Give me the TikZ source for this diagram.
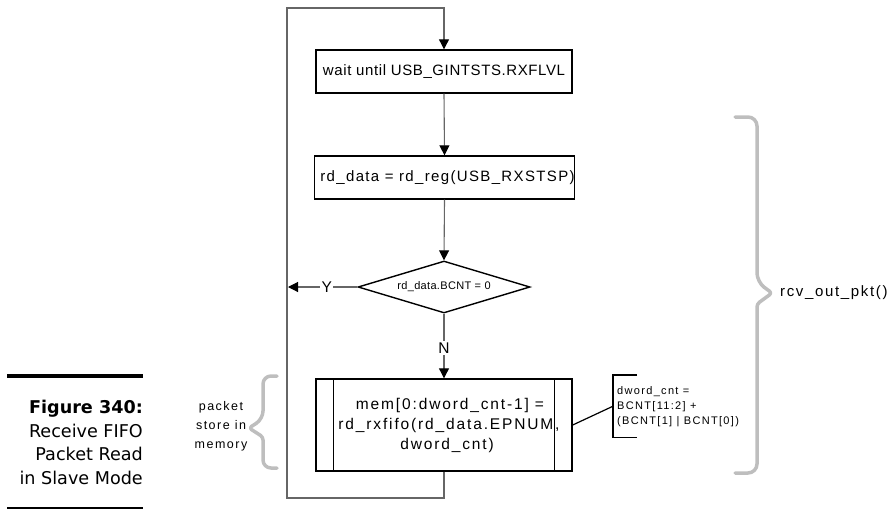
\documentclass[tikz,border=0pt]{standalone}
\usepackage{fontspec}
\setmainfont{Liberation Sans}
\newfontfamily\capfont{DejaVu Sans}
\usetikzlibrary{shapes.geometric,arrows.meta}
\definecolor{bracegray}{RGB}{190,190,190}
\begin{document}
\begin{tikzpicture}[x=1pt,y=-1pt,
  stepbox/.style={draw=black, line width=1.4pt, minimum width=256pt, minimum height=43pt, inner sep=0pt, align=center},
  conn/.style={draw=black!60, line width=1.1pt},
  arr/.style={conn, -{Triangle[width=10pt,length=10pt,fill=black,color=black]}},
  lbl/.style={fill=white, inner sep=1.5pt, font=\fontsize{15.5}{18}\selectfont},
  gbrace/.style={draw=bracegray, line width=3.5pt, line cap=round, line join=round},
  captext/.style={anchor=base east, inner sep=0pt, font=\capfont\fontsize{17.6}{20}\selectfont},
]
\useasboundingbox (0,0) rectangle (891,509);

% flow boxes
\node[stepbox, font=\fontsize{15}{18}\selectfont\addfontfeature{LetterSpace=4}] (b1) at (444,71.5) {wait until USB\_GINTSTS.RXFLVL};
\node[stepbox, font=\fontsize{15}{18}\selectfont\addfontfeature{LetterSpace=9}] (b2) at (444.5,177.5) {\hspace*{6pt}rd\_data = rd\_reg(USB\_RXSTSP)};
\node[diamond, draw=black, line width=1.4pt, minimum width=172pt, minimum height=52pt, shape aspect=3.3, inner sep=0pt,
      font=\fontsize{11}{13}\selectfont\addfontfeature{LetterSpace=3}] (d) at (444,287) {rd\_data.BCNT = 0};
\node[stepbox, minimum height=92pt, font=\fontsize{15.5}{20}\selectfont\addfontfeature{LetterSpace=12}] (bp) at (444,425)
  {\hspace*{12pt}mem[0:dword\_cnt-1] =\\\hspace*{10pt}rd\_rxfifo(rd\_data.EPNUM,\\\hspace*{6pt}dword\_cnt)};
\draw[line width=1.4pt] ([xshift=18pt]bp.north west) -- ([xshift=18pt]bp.south west);
\draw[line width=1.4pt] ([xshift=-18pt]bp.north east) -- ([xshift=-18pt]bp.south east);

% dword annotation
\node[anchor=north west, minimum height=62pt, inner xsep=4pt, inner ysep=0pt, align=left,
      font=\fontsize{11}{15}\selectfont\addfontfeature{LetterSpace=12}] (dw) at (613,375)
  {dword\_cnt =\\BCNT[11:2] +\\(BCNT[1] | BCNT[0])};
\draw[line width=1.4pt] ([xshift=24pt]dw.north west) -- (dw.north west) -- (dw.south west) -- ([xshift=24pt]dw.south west);
\draw[line width=1.2pt] (bp.east) -- (dw.west);

% connectors
\coordinate (tl) at (287,8);
\coordinate (bl) at (287,498);
\coordinate (ya) at (288,287);
\draw[arr] (b1.south) -- (b2.north);
\draw[arr] (b2.south) -- (d.north);
\draw[arr] (d.south) -- node[lbl, pos=0.53] {N} (bp.north);
\draw[arr] (d.west) -- node[lbl, pos=0.44] {Y} (ya);
\draw[arr] (bp.south) |- (bl) -- (tl) -| (b1.north);

% braces
\draw[gbrace, rounded corners=9pt] (735,117) -- (757,117) -- (757,282) [rounded corners=3pt] -- (772,293) -- (757,304) [rounded corners=9pt] -- (757,473) -- (735,473);
\node[anchor=west, inner sep=0pt, font=\fontsize{15}{18}\selectfont\addfontfeature{LetterSpace=11}] (rcv) at (780,293) {rcv\_out\_pkt()};
\draw[gbrace, rounded corners=8pt] (277,376) -- (263,376) -- (263,419) [rounded corners=3pt] -- (249,428) -- (263,437) [rounded corners=8pt] -- (263,468) -- (277,468);
\node[align=center, inner sep=0pt, font=\fontsize{12.5}{19}\selectfont\addfontfeature{LetterSpace=12}] (pk) at (221,426) {packet\\store in\\memory};

% caption
\draw[line width=4pt] (7,376) -- (143,376);
\node[captext, font=\capfont\bfseries\fontsize{17.6}{20}\selectfont] (c1) at (143,413) {Figure 340:};
\node[captext] (c2) at (143,437) {Receive FIFO};
\node[captext] (c3) at (143,460.5) {Packet Read};
\node[captext] (c4) at (143,484) {in Slave Mode};
\draw[line width=1.2pt] (7,508) -- (143,508);
\end{tikzpicture}
\end{document}
